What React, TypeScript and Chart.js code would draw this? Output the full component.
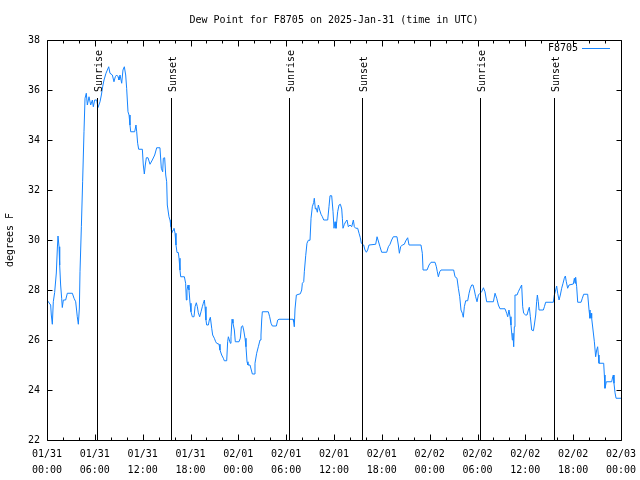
import React, { useEffect, useRef } from 'react';
import { Chart, registerables } from 'chart.js';

Chart.register(...registerables);

// Hours since 2025-01-31 00:00 UTC
const hoursSinceStart = [
  0, 0.46, 0.54, 0.67, 0.79, 0.96, 1.17, 1.30, 1.38, 1.51, 1.59, 1.71, 1.84, 1.92, 2.05, 2.34, 2.55,
  3.18, 3.39, 3.60, 3.80, 3.93, 4.06, 4.14, 4.31, 4.47, 4.64, 4.77, 4.93, 5.06, 5.27, 5.48, 5.69, 5.81, 5.98, 6.23, 6.40,
  6.65, 6.82, 6.98, 7.15, 7.40, 7.57, 7.74, 7.90, 8.20, 8.40, 8.57, 8.74, 8.91, 9.03, 9.16, 9.37, 9.53, 9.70, 9.87, 9.99,
  10.16, 10.29, 10.41, 10.50, 11.00, 11.16, 11.25, 11.37, 11.50, 11.96, 12.08, 12.21, 12.33, 12.46, 12.67, 12.92, 13.21, 13.51, 13.76, 14.17,
  14.34, 14.51, 14.59, 14.76, 14.89, 15.01, 15.09, 15.30, 15.43, 15.55, 15.64, 15.81, 15.93, 16.06, 16.18, 16.31, 16.47, 16.56, 16.68, 16.77,
  17.23, 17.39, 17.48, 17.56, 17.69, 17.81, 17.94, 18.06, 18.23, 18.44, 18.57, 18.73, 18.86, 18.98, 19.15, 19.32, 19.48, 19.61, 19.74, 19.82,
  19.94, 20.03, 20.24, 20.36, 20.49, 20.66, 20.78, 20.99, 21.16, 21.28, 21.58, 21.70, 21.91, 22.12, 22.24, 22.54, 22.66, 22.75, 22.87, 23.00,
  23.08, 23.21, 23.33, 23.50, 23.62, 24.08, 24.25, 24.38, 24.54, 24.67, 24.84, 24.96, 25.09, 25.21, 25.46, 25.63, 25.76, 25.97, 26.09, 26.30,
  26.51, 26.72, 26.84, 26.93, 27.01, 27.76, 27.93, 28.10, 28.27, 28.77, 28.94, 29.10, 30.86, 30.94, 31.02, 31.11, 31.28, 31.78, 31.95, 32.03,
  32.20, 32.28, 32.45, 32.61, 32.78, 32.99, 33.12, 33.28, 33.45, 33.53, 33.66, 33.78, 33.91, 34.04, 34.20, 34.37, 34.54, 34.71, 35.21, 35.37,
  35.50, 35.71, 35.88, 36.00, 36.13, 36.25, 36.34, 36.46, 36.63, 36.80, 36.97, 37.05, 37.13, 37.30, 37.47, 37.63, 37.80, 38.01, 38.22, 38.43,
  38.55, 38.72, 38.97, 39.14, 39.30, 39.43, 39.56, 39.72, 39.89, 40.06, 40.22, 40.39, 41.23, 41.40, 41.56, 41.77, 41.98, 42.61, 42.82, 43.03,
  43.23, 43.44, 43.90, 44.07, 44.20, 44.36, 44.57, 44.82, 44.99, 45.24, 45.41, 46.91, 47.08, 47.17, 47.67, 47.92, 48.17, 48.67, 48.84, 48.96,
  49.09, 49.26, 49.42, 51.01, 51.18, 51.43, 51.60, 51.77, 51.93, 52.10, 52.22, 52.35, 52.52, 52.77, 52.94, 53.10, 53.27, 53.44, 53.60, 53.77,
  53.94, 54.11, 54.32, 54.53, 54.74, 54.94, 55.15, 55.99, 56.20, 56.41, 56.62, 56.82, 57.45, 57.66, 57.79, 57.95, 58.08, 58.20, 58.37, 58.45,
  58.54, 58.62, 58.70, 58.96, 59.12, 59.33, 59.54, 59.67, 59.79, 60.04, 60.21, 60.38, 60.50, 60.63, 60.80, 61.01, 61.13, 61.30, 61.42, 61.51,
  61.63, 61.72, 62.26, 62.39, 62.55, 63.51, 63.64, 63.81, 63.93, 64.06, 64.23, 64.39, 64.56, 64.73, 64.89, 65.02, 65.14, 65.31, 65.48, 66.02,
  66.15, 66.23, 66.31, 66.44, 66.57, 66.99, 67.15, 67.32, 67.82, 67.99, 68.11, 68.24, 68.32, 68.49, 68.66, 68.82, 68.95, 69.07, 69.16, 69.24,
  69.83, 69.91, 69.99, 70.16, 70.83, 70.96, 71.04, 71.12, 71.25, 71.38, 72.0,
];

const dewPointF = [
  27.6, 27.4, 27.0, 26.63, 27.53, 27.9, 28.68, 29.68, 30.16, 29.73, 29.0, 28.2, 27.67, 27.3, 27.6, 27.6, 27.87,
  27.87, 27.67, 27.53, 26.93, 26.63, 27.28, 28.73, 30.53, 32.33, 34.33, 35.67, 35.87, 35.4, 35.73, 35.4, 35.6, 35.33, 35.6, 35.6, 35.3,
  35.53, 35.8, 36.13, 36.4, 36.67, 36.8, 36.93, 36.67, 36.6, 36.33, 36.53, 36.6, 36.53, 36.4, 36.6, 36.27, 36.8, 36.93, 36.6, 36.07,
  35.13, 35.0, 34.6, 34.33, 34.33, 34.6, 34.33, 33.87, 33.63, 33.63, 33.0, 32.64, 33.0, 33.29, 33.29, 33.03, 33.2, 33.4, 33.69, 33.69,
  32.87, 32.73, 33.27, 33.29, 32.6, 32.33, 31.4, 30.93, 30.8, 30.53, 30.27, 30.4, 30.47, 30.27, 29.8, 29.5, 29.5, 29.27, 28.8, 28.53,
  28.53, 28.27, 27.6, 28.0, 28.2, 28.0, 27.47, 27.13, 26.93, 26.93, 27.33, 27.49, 27.33, 27.09, 26.93, 27.13, 27.33, 27.47, 27.6, 27.33,
  26.8, 26.6, 26.6, 26.8, 26.91, 26.47, 26.2, 26.07, 25.93, 25.87, 25.83, 25.6, 25.4, 25.27, 25.17, 25.17, 25.93, 26.13, 26.0, 25.87,
  26.13, 26.83, 26.67, 26.4, 25.93, 25.93, 26.07, 26.53, 26.57, 26.4, 26.07, 25.73, 25.13, 25.0, 25.0, 24.8, 24.64, 24.64, 25.07, 25.47,
  25.73, 26.0, 26.2, 26.8, 27.13, 27.13, 26.93, 26.67, 26.56, 26.56, 26.8, 26.83, 26.83, 26.73, 26.53, 27.24, 27.8, 27.85, 28.0, 28.27,
  28.33, 28.73, 29.37, 29.87, 29.99, 29.99, 30.87, 31.33, 31.5, 31.67, 31.24, 31.27, 31.11, 31.4, 31.2, 31.03, 30.93, 30.8, 30.8, 31.33,
  31.77, 31.77, 31.13, 30.47, 30.73, 30.47, 30.73, 31.13, 31.4, 31.43, 31.24, 30.87, 30.47, 30.63, 30.73, 30.8, 30.53, 30.6, 30.53, 30.8,
  30.53, 30.47, 30.47, 30.27, 30.09, 29.87, 29.83, 29.8, 29.6, 29.51, 29.6, 29.8, 29.83, 30.13, 29.96, 29.73, 29.51, 29.51, 29.73, 29.83,
  30.0, 30.13, 30.13, 29.8, 29.47, 29.73, 29.8, 29.83, 29.96, 30.09, 29.8, 29.8, 29.47, 28.8, 28.8, 29.0, 29.11, 29.11, 28.93, 28.73,
  28.53, 28.73, 28.8, 28.8, 28.53, 28.47, 28.07, 27.73, 27.2, 27.07, 26.91, 27.33, 27.57, 27.57, 27.87, 28.07, 28.2, 28.2, 28.0, 27.73,
  27.53, 27.8, 27.87, 27.93, 28.09, 27.93, 27.53, 27.53, 27.87, 27.67, 27.4, 27.25, 27.25, 27.07, 26.93, 27.2, 26.93, 26.6, 26.0, 26.27,
  25.73, 26.53, 27.8, 27.8, 27.93, 28.07, 28.2, 27.33, 27.07, 27.0, 27.0, 27.2, 27.31, 26.93, 26.4, 26.37, 26.6, 27.0, 27.53, 27.8,
  27.53, 27.2, 27.2, 27.33, 27.51, 27.51, 27.8, 28.0, 28.16, 27.87, 27.6, 27.8, 28.07, 28.27, 28.47, 28.56, 28.33, 28.07, 28.2, 28.24,
  28.47, 28.27, 28.51, 28.13, 27.51, 27.51, 27.67, 27.83, 27.83, 27.2, 26.87, 27.07, 26.87, 26.4, 25.93, 25.33, 25.6, 25.73, 25.4, 25.07,
  25.07, 24.6, 24.07, 24.33, 24.33, 24.53, 24.6, 24.27, 23.89, 23.67, 23.67,
];

const xTickDates = ['01/31', '01/31', '01/31', '01/31', '02/01', '02/01', '02/01', '02/01', '02/02', '02/02', '02/02', '02/02', '02/03'];
const xTickTimes = ['00:00', '06:00', '12:00', '18:00', '00:00', '06:00', '12:00', '18:00', '00:00', '06:00', '12:00', '18:00', '00:00'];
const yMin = 22;
const yMax = 38;
const yStep = 2;
const xMajorStep = 6;
const xMinorStep = 2;

const sunEventHours = [6.31, 15.52, 30.39, 39.55, 54.36, 63.64];
const sunEventLabels = ['Sunrise', 'Sunset', 'Sunrise', 'Sunset', 'Sunrise', 'Sunset'];

const titleText = 'Dew Point for F8705 on 2025-Jan-31 (time in UTC)';
const yAxisTitle = 'degrees F';
const seriesName = 'F8705';
const lineColor = '#1584ff';
const FONT_FAMILY = '"DejaVu Sans Mono", "Liberation Mono", monospace';
const FONT = `10px ${FONT_FAMILY}`;

const decorPlugin = {
  id: 'decor',
  beforeDraw(chart: any) {
    const { ctx, width, height } = chart;
    ctx.save();
    ctx.fillStyle = '#ffffff';
    ctx.fillRect(0, 0, width, height);
    ctx.restore();
  },
  afterDatasetsDraw(chart: any) {
    const { ctx, chartArea: a, scales } = chart;
    const x = scales.x;
    const y = scales.y;
    const L = Math.round(a.left) + 0.5;
    const R = Math.round(a.right) + 0.5;
    const T = Math.round(a.top) + 0.5;
    const B = Math.round(a.bottom) + 0.5;
    ctx.save();
    ctx.strokeStyle = '#000';
    ctx.fillStyle = '#000';
    ctx.lineWidth = 1;

    // sunrise / sunset markers
    sunEventHours.forEach((h, i) => {
      const px = Math.round(x.getPixelForValue(h)) + 0.5;
      ctx.beginPath();
      ctx.moveTo(px, a.top + 58);
      ctx.lineTo(px, B);
      ctx.stroke();
      ctx.save();
      ctx.translate(px + 1.5, a.top + 52);
      ctx.rotate(-Math.PI / 2);
      ctx.font = FONT;
      ctx.textAlign = 'left';
      ctx.textBaseline = 'middle';
      ctx.fillText(sunEventLabels[i], 0, 0);
      ctx.restore();
    });

    // border
    ctx.beginPath();
    ctx.rect(L, T, R - L, B - T);
    ctx.stroke();

    // x ticks (inward, mirrored)
    for (let v = x.min; v <= x.max + 1e-9; v += xMinorStep) {
      const px = Math.round(x.getPixelForValue(v)) + 0.5;
      const major = Math.abs(v / xMajorStep - Math.round(v / xMajorStep)) < 1e-6;
      const len = major ? 6 : 3;
      ctx.beginPath();
      ctx.moveTo(px, B);
      ctx.lineTo(px, B - len);
      ctx.moveTo(px, T);
      ctx.lineTo(px, T + len);
      ctx.stroke();
    }
    // y ticks
    for (let v = yMin; v <= yMax + 1e-9; v += yStep) {
      const py = Math.round(y.getPixelForValue(v)) + 0.5;
      ctx.beginPath();
      ctx.moveTo(L, py);
      ctx.lineTo(L + 5, py);
      ctx.moveTo(R, py);
      ctx.lineTo(R - 5, py);
      ctx.stroke();
    }

    // legend
    ctx.font = FONT;
    ctx.textAlign = 'right';
    ctx.textBaseline = 'middle';
    ctx.fillText(seriesName, a.right - 43, a.top + 8);
    ctx.strokeStyle = lineColor;
    ctx.beginPath();
    ctx.moveTo(a.right - 39, a.top + 8.5);
    ctx.lineTo(a.right - 11, a.top + 8.5);
    ctx.stroke();

    // title
    ctx.fillStyle = '#000';
    ctx.textAlign = 'center';
    ctx.fillText(titleText, (a.left + a.right) / 2, 20);

    // y axis title
    ctx.save();
    ctx.translate(10, (a.top + a.bottom) / 2);
    ctx.rotate(-Math.PI / 2);
    ctx.textAlign = 'center';
    ctx.textBaseline = 'middle';
    ctx.fillText(yAxisTitle, 0, 0);
    ctx.restore();

    ctx.restore();
  },
};

export default function App() {
  const canvasRef = useRef<HTMLCanvasElement | null>(null);

  useEffect(() => {
    const canvas = canvasRef.current;
    if (!canvas) return;
    const points = hoursSinceStart.map((h, i) => ({ x: h, y: dewPointF[i] }));
    const chart = new Chart(canvas, {
      type: 'line',
      data: {
        datasets: [
          {
            label: seriesName,
            data: points,
            borderColor: lineColor,
            borderWidth: 1,
            pointRadius: 0,
            tension: 0,
            fill: false,
          },
        ],
      },
      options: {
        responsive: false,
        animation: false,
        devicePixelRatio: 1,
        layout: { padding: { top: 40, left: 0, right: 19, bottom: 0 } },
        plugins: {
          legend: { display: false },
          title: { display: false },
          tooltip: { enabled: false },
        },
        scales: {
          x: {
            type: 'linear',
            min: 0,
            max: 72,
            grid: { display: false, drawTicks: false },
            border: { display: false },
            afterFit: (scale: any) => {
              scale.height = 40;
              scale.paddingLeft = 0;
              scale.paddingRight = 0;
            },
            ticks: {
              stepSize: xMajorStep,
              autoSkip: false,
              maxRotation: 0,
              minRotation: 0,
              padding: 6,
              color: '#000',
              font: { family: FONT_FAMILY, size: 10, lineHeight: 1.6 },
              callback: (value: any) => {
                const i = Math.round(Number(value) / xMajorStep);
                return [xTickDates[i], xTickTimes[i]];
              },
            },
          },
          y: {
            type: 'linear',
            min: yMin,
            max: yMax,
            grid: { display: false, drawTicks: false },
            border: { display: false },
            afterFit: (scale: any) => {
              scale.width = 47;
              scale.paddingTop = 0;
              scale.paddingBottom = 0;
            },
            ticks: {
              stepSize: yStep,
              padding: 7,
              color: '#000',
              font: { family: FONT_FAMILY, size: 10 },
            },
          },
        },
      },
      plugins: [decorPlugin],
    });
    return () => chart.destroy();
  }, []);

  return (
    <div style={{ position: 'fixed', left: 0, top: 0, width: 640, height: 480, background: '#fff' }}>
      <canvas ref={canvasRef} width={640} height={480} style={{ display: 'block' }} />
    </div>
  );
}
